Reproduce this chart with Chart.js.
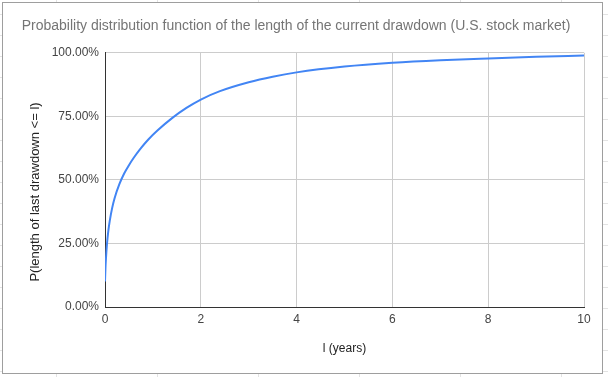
<!DOCTYPE html>
<html>
<head>
<meta charset="utf-8">
<script src="https://cdn.jsdelivr.net/npm/chart.js@4"></script>
<style>
  html, body {
    margin: 0;
    padding: 0;
  }
  body {
    width: 608px;
    height: 377px;
    position: relative;
    overflow: hidden;
    background-color: #fff;
    background-image:
      repeating-linear-gradient(to right, transparent 0, transparent 56px, #e3e3e3 56px, #e3e3e3 57px, transparent 57px, transparent 101px),
      repeating-linear-gradient(to bottom, transparent 0, transparent 14px, #e3e3e3 14px, #e3e3e3 15px, transparent 15px, transparent 21px);
  }
  .frame {
    position: absolute;
    left: 2px;
    top: 2px;
    width: 599px;
    height: 370px;
    border: 1px solid #9e9e9e;
    background: #fff;
  }
  #chart {
    position: absolute;
    left: 0;
    top: 0;
  }
</style>
</head>
<body>
<div class="frame"></div>
<canvas id="chart" width="608" height="377"></canvas>
<script>
// length of the drawdown, in years
const years = [0, 0.01, 0.02, 0.04, 0.07, 0.1, 0.15, 0.2, 0.3, 0.4, 0.5, 0.6, 0.75, 0.9, 1.1, 1.4, 1.7, 2, 2.4, 3, 3.5, 4, 5, 6, 7, 8, 9, 10];
// P(length of last drawdown <= l), in percent
const probability = [10, 15.5, 19, 24.5, 30, 34, 39, 42.8, 48.3, 52.5, 55.8, 58.7, 62.5, 65.8, 69.5, 74.3, 78.3, 81.6, 84.9, 88.4, 90.6, 92.3, 94.6, 96.1, 97.1, 97.8, 98.4, 98.9];

const xTicks = [0, 2, 4, 6, 8, 10];
const yTicks = [0, 25, 50, 75, 100];

const chartTitle = "Probability distribution function of the length of the current drawdown (U.S. stock market)";
const xTitle = "l (years)";
const yTitle = "P(length of last drawdown <= l)";

const FONT = "Arial, 'Liberation Sans', sans-serif";

// y axis title sits a little below the middle of the plot, like in the sheet
const yTitlePlugin = {
  id: "yTitle",
  afterDraw(chart) {
    const ctx = chart.ctx;
    ctx.save();
    ctx.translate(35, 192);
    ctx.rotate(-Math.PI / 2);
    ctx.fillStyle = "#222222";
    ctx.font = "13px " + FONT;
    ctx.textAlign = "center";
    ctx.textBaseline = "middle";
    ctx.fillText(yTitle, 0, 0);
    ctx.restore();
  }
};

new Chart(document.getElementById("chart"), {
  type: "line",
  data: {
    datasets: [{
      data: years.map((x, i) => ({ x: x, y: probability[i] })),
      borderColor: "#4285f4",
      borderWidth: 2,
      pointRadius: 0,
      cubicInterpolationMode: "monotone",
      fill: false
    }]
  },
  options: {
    responsive: false,
    animation: false,
    layout: {
      padding: { top: 0, left: 8, right: 24, bottom: 0 }
    },
    plugins: {
      legend: { display: false },
      tooltip: { enabled: false },
      title: {
        display: true,
        text: chartTitle,
        color: "#757575",
        font: { family: FONT, size: 14, weight: "normal" },
        padding: { top: 18, bottom: 18 }
      }
    },
    scales: {
      x: {
        type: "linear",
        min: 0,
        max: 10,
        afterBuildTicks: axis => {
          axis.ticks = xTicks.map(v => ({ value: v }));
        },
        afterFit: axis => { axis.height = 70; },
        grid: { color: "#cccccc", drawTicks: false },
        border: { color: "#333333", width: 1 },
        ticks: {
          color: "#444444",
          padding: 5,
          maxRotation: 0,
          font: { family: FONT, size: 12 }
        },
        title: {
          display: true,
          text: xTitle,
          color: "#222222",
          font: { family: FONT, size: 12 },
          padding: { top: 0, bottom: 21 }
        }
      },
      y: {
        type: "linear",
        min: 0,
        max: 100,
        afterBuildTicks: axis => {
          axis.ticks = yTicks.map(v => ({ value: v }));
        },
        afterFit: axis => { axis.width = 97; },
        grid: { color: "#cccccc", drawTicks: false },
        border: { color: "#333333", width: 1 },
        ticks: {
          color: "#444444",
          padding: 6,
          font: { family: FONT, size: 12 },
          callback: v => v.toFixed(2) + "%"
        }
      }
    }
  },
  plugins: [yTitlePlugin]
});
</script>
</body>
</html>
